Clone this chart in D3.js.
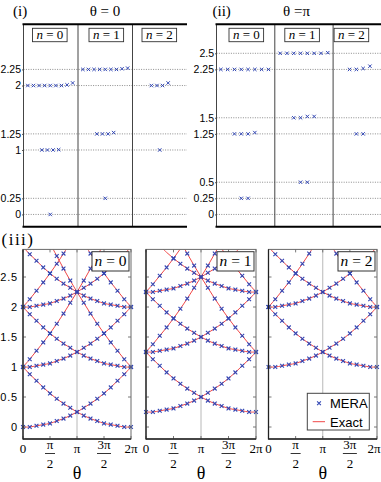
<!DOCTYPE html>
<html><head><meta charset="utf-8">
<script src="https://cdn.jsdelivr.net/npm/d3@7"></script>
<style>body{margin:0;background:#fff;} svg{display:block;}</style>
</head><body>
<script>
// ================= DATA =================
const sectorIds = [0, 1, 2];

// Panel (i): theta = 0, MERA levels (grouped by degenerate level) per sector n
const theta0_n0 = [[0], [1, 1, 1, 1.005], [2, 2, 2, 2, 2, 2, 2, 2.01, 2.04]];
const theta0_n1 = [[0.25], [1.25, 1.25, 1.25, 1.27], [2.25, 2.25, 2.25, 2.25, 2.25, 2.25, 2.25, 2.26, 2.27]];
const theta0_n2 = [[1], [2, 2, 2, 2.04]];
const theta0Ticks = [0, 0.25, 1, 1.25, 2, 2.25];

// Panel (ii): theta = pi
const thetaPi_n0 = [[0.25, 0.25], [1.25, 1.25, 1.25, 1.27], [2.25, 2.25, 2.25, 2.25, 2.25, 2.25, 2.25, 2.25]];
const thetaPi_n1 = [[0.5, 0.5], [1.5, 1.5, 1.52, 1.52], [2.5, 2.5, 2.5, 2.5, 2.5, 2.5, 2.5, 2.51]];
const thetaPi_n2 = [[1.25, 1.25], [2.25, 2.25, 2.265, 2.3]];
const thetaPiTicks = [0, 0.25, 0.5, 1.25, 1.5, 2.25, 2.5];

// Panel (iii): sample points theta = k*pi/8
const thetaEighths = [0, 1, 2, 3, 4, 5, 6, 7, 8, 9, 10, 11, 12, 13, 14, 15, 16];
const curvesN0 = [
  [0, 0, 0.02, 0.04, 0.06, 0.1, 0.14, 0.19, 0.25, 0.32, 0.39, 0.47, 0.56, 0.66, 0.77, 0.88, 1],
  [1, 0.88, 0.77, 0.66, 0.56, 0.47, 0.39, 0.32, 0.25, 0.19, 0.14, 0.1, 0.06, 0.04, 0.02, 0, 0],
  [1, 1, 1.02, 1.04, 1.06, 1.1, 1.14, 1.19, 1.25, 1.32, 1.39, 1.47, 1.56, 1.66, 1.77, 1.88, 2],
  [2, 1.88, 1.77, 1.66, 1.56, 1.47, 1.39, 1.32, 1.25, 1.19, 1.14, 1.1, 1.06, 1.04, 1.02, 1, 1],
  [2, 2, 2.02, 2.04, 2.06, 2.1, 2.14, 2.19, 2.25, 2.32, 2.39, 2.47, 2.56, 2.66, 2.77, 2.88, 3],
  [3, 2.88, 2.77, 2.66, 2.56, 2.47, 2.39, 2.32, 2.25, 2.19, 2.14, 2.1, 2.06, 2.04, 2.02, 2, 2],
  [1, 1.13, 1.27, 1.41, 1.56, 1.72, 1.89, 2.07, 2.25, 2.44, 2.64, 2.85, 3.06, null, null, null, null],
  [null, null, null, null, 3.06, 2.85, 2.64, 2.44, 2.25, 2.07, 1.89, 1.72, 1.56, 1.41, 1.27, 1.13, 1],
  [2, 2.13, 2.27, 2.41, 2.56, 2.72, 2.89, 3.07, null, null, null, null, null, null, null, null, null],
  [null, null, null, null, null, null, null, null, null, 3.07, 2.89, 2.72, 2.56, 2.41, 2.27, 2.13, 2]
];
const curvesN1 = [
  [0.25, 0.25, 0.27, 0.29, 0.31, 0.35, 0.39, 0.44, 0.5, 0.57, 0.64, 0.72, 0.81, 0.91, 1.02, 1.13, 1.25],
  [1.25, 1.13, 1.02, 0.91, 0.81, 0.72, 0.64, 0.57, 0.5, 0.44, 0.39, 0.35, 0.31, 0.29, 0.27, 0.25, 0.25],
  [1.25, 1.25, 1.27, 1.29, 1.31, 1.35, 1.39, 1.44, 1.5, 1.57, 1.64, 1.72, 1.81, 1.91, 2.02, 2.13, 2.25],
  [2.25, 2.13, 2.02, 1.91, 1.81, 1.72, 1.64, 1.57, 1.5, 1.44, 1.39, 1.35, 1.31, 1.29, 1.27, 1.25, 1.25],
  [2.25, 2.25, 2.27, 2.29, 2.31, 2.35, 2.39, 2.44, 2.5, 2.57, 2.64, 2.72, 2.81, 2.91, 3.02, null, null],
  [null, null, 3.02, 2.91, 2.81, 2.72, 2.64, 2.57, 2.5, 2.44, 2.39, 2.35, 2.31, 2.29, 2.27, 2.25, 2.25],
  [1.25, 1.38, 1.52, 1.66, 1.81, 1.97, 2.14, 2.32, 2.5, 2.69, 2.89, 3.1, null, null, null, null, null],
  [null, null, null, null, null, 3.1, 2.89, 2.69, 2.5, 2.32, 2.14, 1.97, 1.81, 1.66, 1.52, 1.38, 1.25],
  [2.25, 2.38, 2.52, 2.66, 2.81, 2.97, 3.14, null, null, null, null, null, null, null, null, null, null],
  [null, null, null, null, null, null, null, null, null, null, 3.14, 2.97, 2.81, 2.66, 2.52, 2.38, 2.25]
];
const curvesN2 = [
  [1, 1, 1.02, 1.04, 1.06, 1.1, 1.14, 1.19, 1.25, 1.32, 1.39, 1.47, 1.56, 1.66, 1.77, 1.88, 2],
  [2, 1.88, 1.77, 1.66, 1.56, 1.47, 1.39, 1.32, 1.25, 1.19, 1.14, 1.1, 1.06, 1.04, 1.02, 1, 1],
  [2, 2, 2.02, 2.04, 2.06, 2.1, 2.14, 2.19, 2.25, 2.32, 2.39, 2.47, 2.56, 2.66, 2.77, 2.88, 3],
  [3, 2.88, 2.77, 2.66, 2.56, 2.47, 2.39, 2.32, 2.25, 2.19, 2.14, 2.1, 2.06, 2.04, 2.02, 2, 2],
  [2, 2.13, 2.27, 2.41, 2.56, 2.72, 2.89, 3.07, null, null, null, null, null, null, null, null, null],
  [null, null, null, null, null, null, null, null, null, 3.07, 2.89, 2.72, 2.56, 2.41, 2.27, 2.13, 2]
];
const bottomYTicks = [0, 0.5, 1, 1.5, 2, 2.5];
const xTickHalfPis = [0, 1, 2, 3, 4];           // tick positions in units of pi/2
const xTickNum = ["0", "π", "π", "3π", "2π"];   // numerator / plain label
const xTickDen = [null, "2", null, "2", null];  // denominator (fraction labels)
const legendLabels = ["MERA", "Exact"];

// ================= STYLE =================
const W = 381, H = 482;
const BLUE = "#3146b4", RED = "#f04848";
const SERIF = "'Liberation Serif','Times New Roman',serif";
const SANS = "'Liberation Sans',Arial,sans-serif";

const svg = d3.select("body").append("svg").attr("width", W).attr("height", H);

function cross(g, x, y, s, w) {
  g.append("path")
    .attr("d", `M${x - s},${y - s}L${x + s},${y + s}M${x - s},${y + s}L${x + s},${y - s}`)
    .attr("stroke", BLUE).attr("stroke-width", w).attr("fill", "none");
}

function nLabel(g, cx, y, size, n) {
  const t = g.append("text").attr("x", cx).attr("y", y).attr("text-anchor", "middle")
    .attr("font-family", SERIF).attr("font-size", size).attr("fill", "#000");
  t.append("tspan").attr("font-style", "italic").text("n");
  t.append("tspan").text(" = " + n);
}

// ================= TOP PANELS =================
const yT = d3.scaleLinear().domain([-0.19, 2.95]).range([226.7, 24.3]);

function topPanel(cfg) {
  const g = svg.append("g");
  const xb = d3.scaleBand().domain(sectorIds).range([cfg.x0, cfg.x1]);
  // dotted reference lines
  cfg.ticks.forEach(v => {
    g.append("line").attr("x1", cfg.x0).attr("x2", Math.min(cfg.x1, W))
      .attr("y1", yT(v)).attr("y2", yT(v))
      .attr("stroke", "#808080").attr("stroke-width", 0.9).attr("stroke-dasharray", "1,1.4");
  });
  // left axis with labels
  const ax = d3.axisLeft(yT).tickValues(cfg.ticks).tickSizeInner(1.5).tickSizeOuter(0)
    .tickPadding(1).tickFormat(d => String(d));
  const ag = g.append("g").attr("transform", `translate(${cfg.x0},0)`).call(ax);
  ag.select(".domain").remove();
  ag.selectAll("line").attr("stroke", "#555");
  ag.selectAll("text").attr("font-family", SANS).attr("font-size", 10.5).attr("fill", "#000");
  // verticals: left edge and dividers
  [cfg.x0, xb(1), xb(2)].forEach(x => {
    g.append("line").attr("x1", x).attr("x2", x).attr("y1", yT.range()[1]).attr("y2", yT.range()[0])
      .attr("stroke", "#444").attr("stroke-width", 1);
  });
  // thick top & bottom
  [yT.range()[1], yT.range()[0]].forEach(y => {
    g.append("line").attr("x1", cfg.x0 - 1).attr("x2", cfg.x1).attr("y1", y).attr("y2", y)
      .attr("stroke", "#000").attr("stroke-width", 2);
  });
  // markers
  cfg.levels.forEach((sectorLevels, n) => {
    const cx = xb(n) + xb.bandwidth() / 2 + cfg.centerShift[n];
    sectorLevels.forEach(level => {
      level.forEach((v, i) => {
        cross(g, cx + (i - (level.length - 1) / 2) * cfg.spacing, yT(v), 1.7, 1);
      });
    });
  });
  // n boxes
  sectorIds.forEach(n => {
    const bx = xb(n) + cfg.boxOff[n];
    g.append("rect").attr("x", bx).attr("y", 28.3).attr("width", 34.6).attr("height", 13.4)
      .attr("fill", "#fff").attr("stroke", "#333").attr("stroke-width", 0.9);
    nLabel(g, bx + 17.3, 39.3, 13, n);
  });
  // titles
  g.append("text").attr("x", cfg.labX).attr("y", 15.5).attr("font-family", SERIF).attr("font-size", 15)
    .text(cfg.label);
  g.append("text").attr("x", cfg.thX).attr("y", 15.5).attr("font-family", SERIF).attr("font-size", 15)
    .attr("text-anchor", "middle").text(cfg.thText);
}

topPanel({ x0: 23.5, x1: 187, ticks: theta0Ticks, levels: [theta0_n0, theta0_n1, theta0_n2],
  spacing: 5.6, centerShift: [-0.5, 0, 0], boxOff: [9, 11, 9.5],
  label: "(i)", labX: 13, thX: 105, thText: "θ = 0" });
topPanel({ x0: 216.5, x1: 391.4, ticks: thetaPiTicks, levels: [thetaPi_n0, thetaPi_n1, thetaPi_n2],
  spacing: 6.8, centerShift: [-1, 0, -2.5], boxOff: [12.5, 10, 1],
  label: "(ii)", labX: 212.5, thX: 296.5, thText: "θ =π" });

// ================= BOTTOM PANELS =================
const yB = d3.scaleLinear().domain([-0.2, 2.96]).range([439, 249.4]);
const panelsB = [
  { x0: 23, x1: 131, curves: curvesN0, n: 0 },
  { x0: 146, x1: 256, curves: curvesN1, n: 1 },
  { x0: 268.5, x1: 377, curves: curvesN2, n: 2 }
];
const markerMax = 2.9;

panelsB.forEach((p, pi) => {
  const g = svg.append("g");
  const xS = d3.scaleLinear().domain([0, 2 * Math.PI]).range([p.x0, p.x1]);
  const clipId = "clip" + pi;
  svg.append("clipPath").attr("id", clipId).append("rect")
    .attr("x", p.x0).attr("y", yB.range()[1]).attr("width", p.x1 - p.x0).attr("height", yB.range()[0] - yB.range()[1]);
  // pi guide line
  g.append("line").attr("x1", xS(Math.PI)).attr("x2", xS(Math.PI))
    .attr("y1", yB.range()[1]).attr("y2", yB.range()[0]).attr("stroke", "#b0b0b0").attr("stroke-width", 0.9);
  // exact curves
  const line = d3.line().defined(d => d != null)
    .x((d, i) => xS(thetaEighths[i] * Math.PI / 8)).y(d => yB(d)).curve(d3.curveCatmullRom);
  const cg = g.append("g").attr("clip-path", `url(#${clipId})`);
  p.curves.forEach(c => {
    cg.append("path").attr("d", line(c)).attr("fill", "none").attr("stroke", RED).attr("stroke-width", 1);
  });
  // MERA markers
  const mg = g.append("g");
  p.curves.forEach(c => {
    c.forEach((v, i) => {
      if (v != null && v <= markerMax) cross(mg, xS(thetaEighths[i] * Math.PI / 8), yB(v), 1.9, 1.1);
    });
  });
  // ticks (inside) on all sides
  const xt = xTickHalfPis.map(k => k * Math.PI / 2);
  const tick = (x1, y1, x2, y2) => g.append("line").attr("x1", x1).attr("y1", y1).attr("x2", x2).attr("y2", y2)
    .attr("stroke", "#555").attr("stroke-width", 0.8);
  xt.forEach(v => {
    tick(xS(v), yB.range()[0], xS(v), yB.range()[0] - 3);
    tick(xS(v), yB.range()[1], xS(v), yB.range()[1] + 3);
  });
  bottomYTicks.forEach(v => {
    tick(p.x0, yB(v), p.x0 + 3, yB(v));
    tick(p.x1, yB(v), p.x1 - 3, yB(v));
  });
  // frame
  g.append("rect").attr("x", p.x0).attr("y", yB.range()[1]).attr("width", p.x1 - p.x0)
    .attr("height", yB.range()[0] - yB.range()[1]).attr("fill", "none")
    .attr("stroke", "#6a6a6a").attr("stroke-width", 1);
  g.append("line").attr("x1", p.x0).attr("x2", p.x0).attr("y1", yB.range()[1]).attr("y2", yB.range()[0] + 0.5)
    .attr("stroke", "#222").attr("stroke-width", 1.3);
  g.append("line").attr("x1", p.x0).attr("x2", p.x1).attr("y1", yB.range()[0]).attr("y2", yB.range()[0])
    .attr("stroke", "#222").attr("stroke-width", 1.3);
  // y labels (first panel only)
  if (pi === 0) {
    bottomYTicks.forEach(v => {
      g.append("text").attr("x", 18).attr("y", yB(v) + 4).attr("text-anchor", "end")
        .attr("font-family", SANS).attr("font-size", 11).attr("letter-spacing", 0.8).text(String(v));
    });
  }
  // x labels
  xt.forEach((v, k) => {
    const x = xS(v);
    if (xTickDen[k] == null) {
      const overflow = x + 8 > W;
      g.append("text").attr("x", overflow ? W - 0.5 : x).attr("y", 453)
        .attr("text-anchor", overflow ? "end" : "middle")
        .attr("font-family", SERIF).attr("font-size", 13).text(xTickNum[k]);
    } else {
      g.append("text").attr("x", x).attr("y", 448.5).attr("text-anchor", "middle")
        .attr("font-family", SERIF).attr("font-size", 13).text(xTickNum[k]);
      const hw = xTickNum[k].length > 1 ? 7 : 5;
      g.append("line").attr("x1", x - hw).attr("x2", x + hw).attr("y1", 453.5).attr("y2", 453.5)
        .attr("stroke", "#000").attr("stroke-width", 0.8);
      g.append("text").attr("x", x).attr("y", 467.5).attr("text-anchor", "middle")
        .attr("font-family", SERIF).attr("font-size", 13).text(xTickDen[k]);
    }
  });
  g.append("text").attr("x", xS(Math.PI)).attr("y", 478.5).attr("text-anchor", "middle")
    .attr("font-family", SERIF).attr("font-size", 18).text("θ");
  // n box
  const bx = p.x1 - 39;
  g.append("rect").attr("x", bx).attr("y", 251.7).attr("width", 37).attr("height", 19.3)
    .attr("fill", "#fff").attr("stroke", "#333").attr("stroke-width", 1);
  nLabel(g, bx + 18.5, 266.3, 15.5, p.n);
});

svg.append("text").attr("x", 1.5).attr("y", 244.5).attr("font-family", SERIF).attr("font-size", 17)
  .attr("letter-spacing", 1.5).text("(iii)");

// legend
const lg = svg.append("g");
lg.append("rect").attr("x", 307.3).attr("y", 393.3).attr("width", 62).attr("height", 36.7)
  .attr("fill", "#fff").attr("stroke", "#444").attr("stroke-width", 1);
cross(lg, 319, 403.3, 1.9, 1.1);
lg.append("line").attr("x1", 312.7).attr("x2", 325).attr("y1", 421.7).attr("y2", 421.7)
  .attr("stroke", RED).attr("stroke-width", 1);
lg.append("text").attr("x", 330).attr("y", 408).attr("font-family", SANS).attr("font-size", 13).text(legendLabels[0]);
lg.append("text").attr("x", 330).attr("y", 426.5).attr("font-family", SANS).attr("font-size", 13).text(legendLabels[1]);
</script>
</body></html>
